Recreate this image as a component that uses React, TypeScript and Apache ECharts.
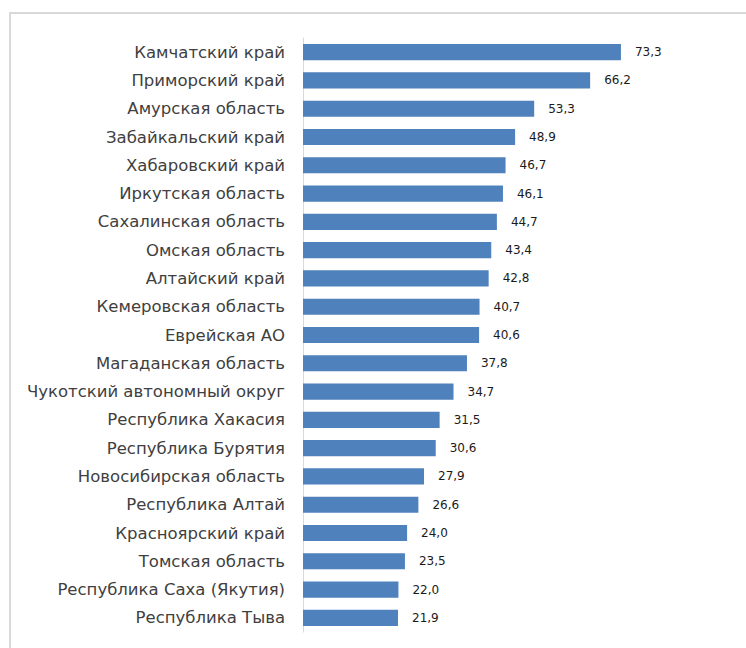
import React, { useEffect, useRef } from "react";
import * as echarts from "echarts";

const regions = [
  "Камчатский край",
  "Приморский край",
  "Амурская область",
  "Забайкальский край",
  "Хабаровский край",
  "Иркутская область",
  "Сахалинская область",
  "Омская область",
  "Алтайский край",
  "Кемеровская область",
  "Еврейская АО",
  "Магаданская область",
  "Чукотский автономный округ",
  "Республика Хакасия",
  "Республика Бурятия",
  "Новосибирская область",
  "Республика Алтай",
  "Красноярский край",
  "Томская область",
  "Республика Саха (Якутия)",
  "Республика Тыва",
];

const values = [
  73.3, 66.2, 53.3, 48.9, 46.7, 46.1, 44.7, 43.4, 42.8, 40.7, 40.6, 37.8, 34.7,
  31.5, 30.6, 27.9, 26.6, 24.0, 23.5, 22.0, 21.9,
];

export default function App() {
  const ref = useRef<HTMLDivElement>(null);
  useEffect(() => {
    if (!ref.current) return;
    const chart = echarts.init(ref.current, null, { renderer: "svg" });
    chart.setOption({
      animation: false,
      backgroundColor: "#ffffff",
      graphic: [
        {
          type: "rect",
          shape: { x: 10, y: 13, width: 760, height: 660 },
          style: { fill: "none", stroke: "#d9d9d9", lineWidth: 2 },
          silent: true,
        },
      ],
      grid: { left: 303, right: 96, top: 38, bottom: 16 },
      xAxis: {
        type: "value",
        min: 0,
        max: 80,
        show: false,
      },
      yAxis: {
        type: "category",
        inverse: true,
        data: regions,
        axisLine: { show: true, lineStyle: { color: "#d9d9d9", width: 1 } },
        axisTick: { show: false },
        axisLabel: {
          margin: 18,
          fontFamily: "DejaVu Sans",
          fontSize: 16.5,
          color: "#404040",
        },
      },
      series: [
        {
          type: "bar",
          data: values,
          barCategoryGap: "43%",
          itemStyle: { color: "#4F81BD" },
          label: {
            show: true,
            position: "right",
            distance: 14,
            fontFamily: "DejaVu Sans",
            fontSize: 12,
            color: "#1a1a1a",
            formatter: (p: any) => p.value.toFixed(1).replace(".", ","),
          },
        },
      ],
    });
    return () => chart.dispose();
  }, []);
  return (
    <div
      ref={ref}
      style={{ position: "fixed", left: 0, top: 0, width: 746, height: 648 }}
    />
  );
}
